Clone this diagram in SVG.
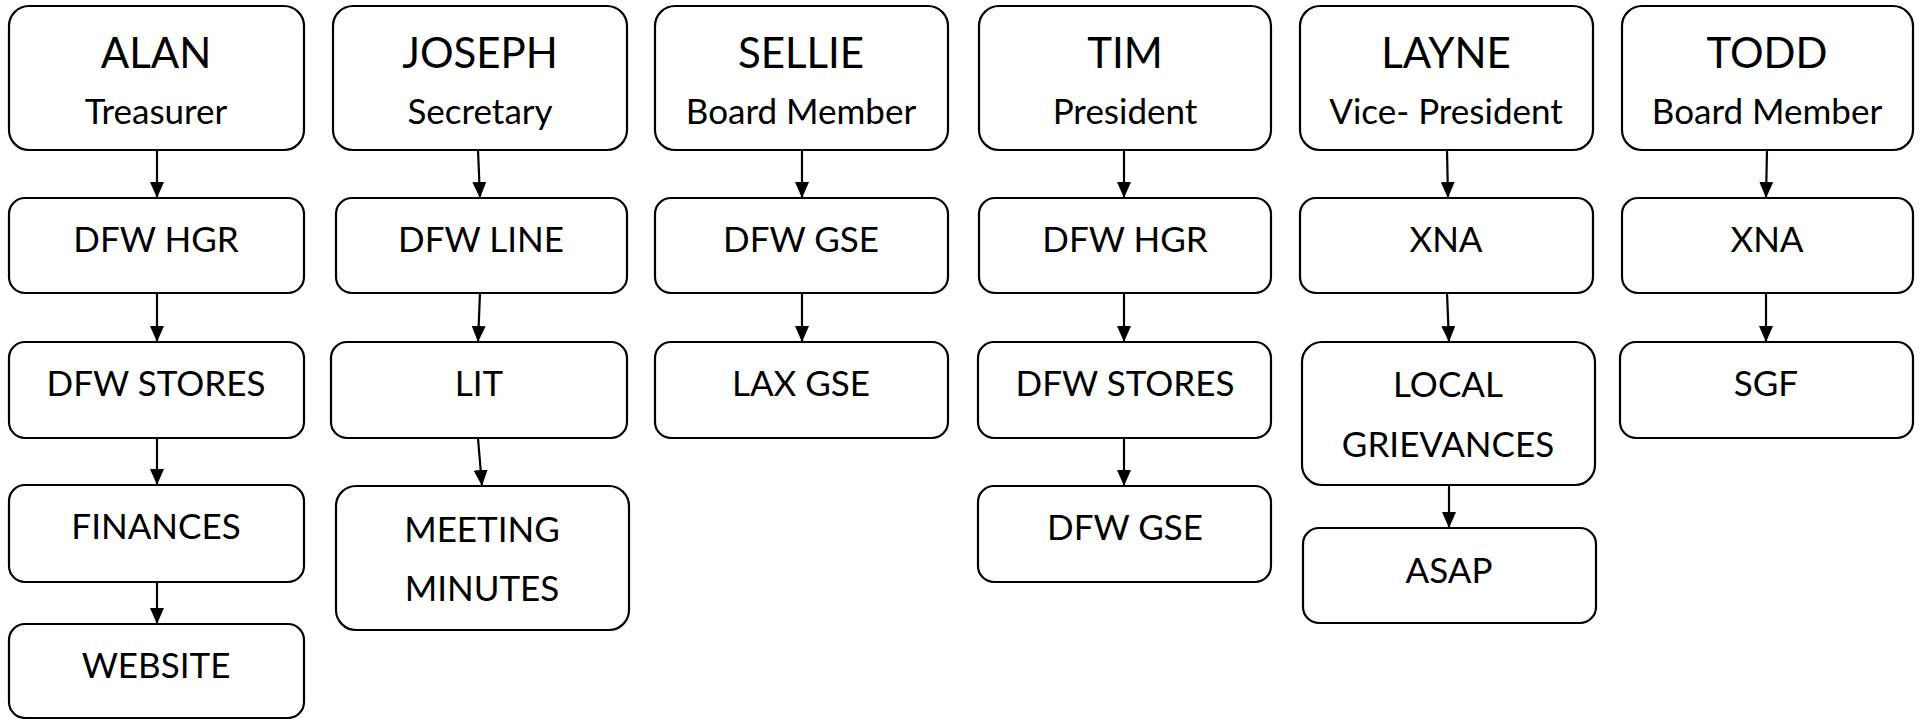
<svg xmlns="http://www.w3.org/2000/svg" width="1921" height="719" viewBox="0 0 1921 719">
<style>
.b{fill:#fff;stroke:#000;stroke-width:2.2}
text{font-family:Lato,"Liberation Sans",sans-serif;fill:#000;text-anchor:middle}
.n{font-size:42px}
.t{font-size:35px}
.c{stroke:#000;stroke-width:2.2;fill:none;marker-end:url(#ah)}
</style>
<defs>
<marker id="ah" markerUnits="userSpaceOnUse" viewBox="0 0 16 14" refX="16" refY="7" markerWidth="16" markerHeight="14" orient="auto">
<path d="M0,0 L16,7 L0,14 Z" fill="#000"/>
</marker>
</defs>
<rect width="1921" height="719" fill="#fff"/>
<g id="connectors">
<line class="c" x1="157" y1="150" x2="157" y2="198"/>
<line class="c" x1="157" y1="293" x2="157" y2="342"/>
<line class="c" x1="157" y1="438" x2="157" y2="485"/>
<line class="c" x1="157" y1="582" x2="157" y2="624"/>
<line class="c" x1="478" y1="150" x2="480" y2="198"/>
<line class="c" x1="480" y1="293" x2="478" y2="342"/>
<line class="c" x1="478" y1="438" x2="482" y2="486"/>
<line class="c" x1="802" y1="150" x2="802" y2="198"/>
<line class="c" x1="802" y1="293" x2="802" y2="342"/>
<line class="c" x1="1124" y1="150" x2="1124" y2="198"/>
<line class="c" x1="1124" y1="293" x2="1124" y2="342"/>
<line class="c" x1="1124" y1="438" x2="1124" y2="486"/>
<line class="c" x1="1447" y1="150" x2="1448" y2="198"/>
<line class="c" x1="1447" y1="293" x2="1449" y2="342"/>
<line class="c" x1="1449" y1="485" x2="1449" y2="528"/>
<line class="c" x1="1767" y1="150" x2="1766" y2="198"/>
<line class="c" x1="1766" y1="293" x2="1766" y2="342"/>
</g>
<g id="alan"><rect class="b" x="9" y="6" width="295" height="144" rx="20"/><text class="n" x="156" y="68">ALAN</text><text class="t" x="156" y="124">Treasurer</text></g>
<g id="alan-dfw-hgr"><rect class="b" x="9" y="198" width="295" height="95" rx="16"/><text class="t" x="156" y="252">DFW HGR</text></g>
<g id="alan-dfw-stores"><rect class="b" x="9" y="342" width="295" height="96" rx="16"/><text class="t" x="156" y="396">DFW STORES</text></g>
<g id="alan-finances"><rect class="b" x="9" y="485" width="295" height="97" rx="16"/><text class="t" x="156" y="539">FINANCES</text></g>
<g id="alan-website"><rect class="b" x="9" y="624" width="295" height="94" rx="16"/><text class="t" x="156" y="678">WEBSITE</text></g>

<g id="joseph"><rect class="b" x="333" y="6" width="294" height="144" rx="20"/><text class="n" x="480" y="68">JOSEPH</text><text class="t" x="480" y="124">Secretary</text></g>
<g id="joseph-dfw-line"><rect class="b" x="336" y="198" width="291" height="95" rx="16"/><text class="t" x="481" y="252">DFW LINE</text></g>
<g id="joseph-lit"><rect class="b" x="331" y="342" width="296" height="96" rx="16"/><text class="t" x="479" y="396">LIT</text></g>
<g id="joseph-meeting"><rect class="b" x="336" y="486" width="293" height="144" rx="20"/><text class="t" x="482" y="542">MEETING</text><text class="t" x="482" y="601">MINUTES</text></g>

<g id="sellie"><rect class="b" x="655" y="6" width="293" height="144" rx="20"/><text class="n" x="801" y="68">SELLIE</text><text class="t" x="801" y="124">Board Member</text></g>
<g id="sellie-dfw-gse"><rect class="b" x="655" y="198" width="293" height="95" rx="16"/><text class="t" x="801" y="252">DFW GSE</text></g>
<g id="sellie-lax-gse"><rect class="b" x="655" y="342" width="293" height="96" rx="16"/><text class="t" x="801" y="396">LAX GSE</text></g>

<g id="tim"><rect class="b" x="979" y="6" width="292" height="144" rx="20"/><text class="n" x="1125" y="68">TIM</text><text class="t" x="1125" y="124">President</text></g>
<g id="tim-dfw-hgr"><rect class="b" x="979" y="198" width="292" height="95" rx="16"/><text class="t" x="1125" y="252">DFW HGR</text></g>
<g id="tim-dfw-stores"><rect class="b" x="978" y="342" width="293" height="96" rx="16"/><text class="t" x="1125" y="396">DFW STORES</text></g>
<g id="tim-dfw-gse"><rect class="b" x="978" y="486" width="293" height="96" rx="16"/><text class="t" x="1125" y="540">DFW GSE</text></g>

<g id="layne"><rect class="b" x="1300" y="6" width="293" height="144" rx="20"/><text class="n" x="1446" y="68">LAYNE</text><text class="t" x="1446" y="124">Vice- President</text></g>
<g id="layne-xna"><rect class="b" x="1300" y="198" width="293" height="95" rx="16"/><text class="t" x="1446" y="252">XNA</text></g>
<g id="layne-local"><rect class="b" x="1302" y="342" width="293" height="143" rx="20"/><text class="t" x="1448" y="397">LOCAL</text><text class="t" x="1448" y="457">GRIEVANCES</text></g>
<g id="layne-asap"><rect class="b" x="1303" y="528" width="293" height="95" rx="16"/><text class="t" x="1449" y="583">ASAP</text></g>

<g id="todd"><rect class="b" x="1622" y="6" width="291" height="144" rx="20"/><text class="n" x="1767" y="68">TODD</text><text class="t" x="1767" y="124">Board Member</text></g>
<g id="todd-xna"><rect class="b" x="1622" y="198" width="291" height="95" rx="16"/><text class="t" x="1767" y="252">XNA</text></g>
<g id="todd-sgf"><rect class="b" x="1620" y="342" width="293" height="96" rx="16"/><text class="t" x="1766" y="396">SGF</text></g>
</svg>
